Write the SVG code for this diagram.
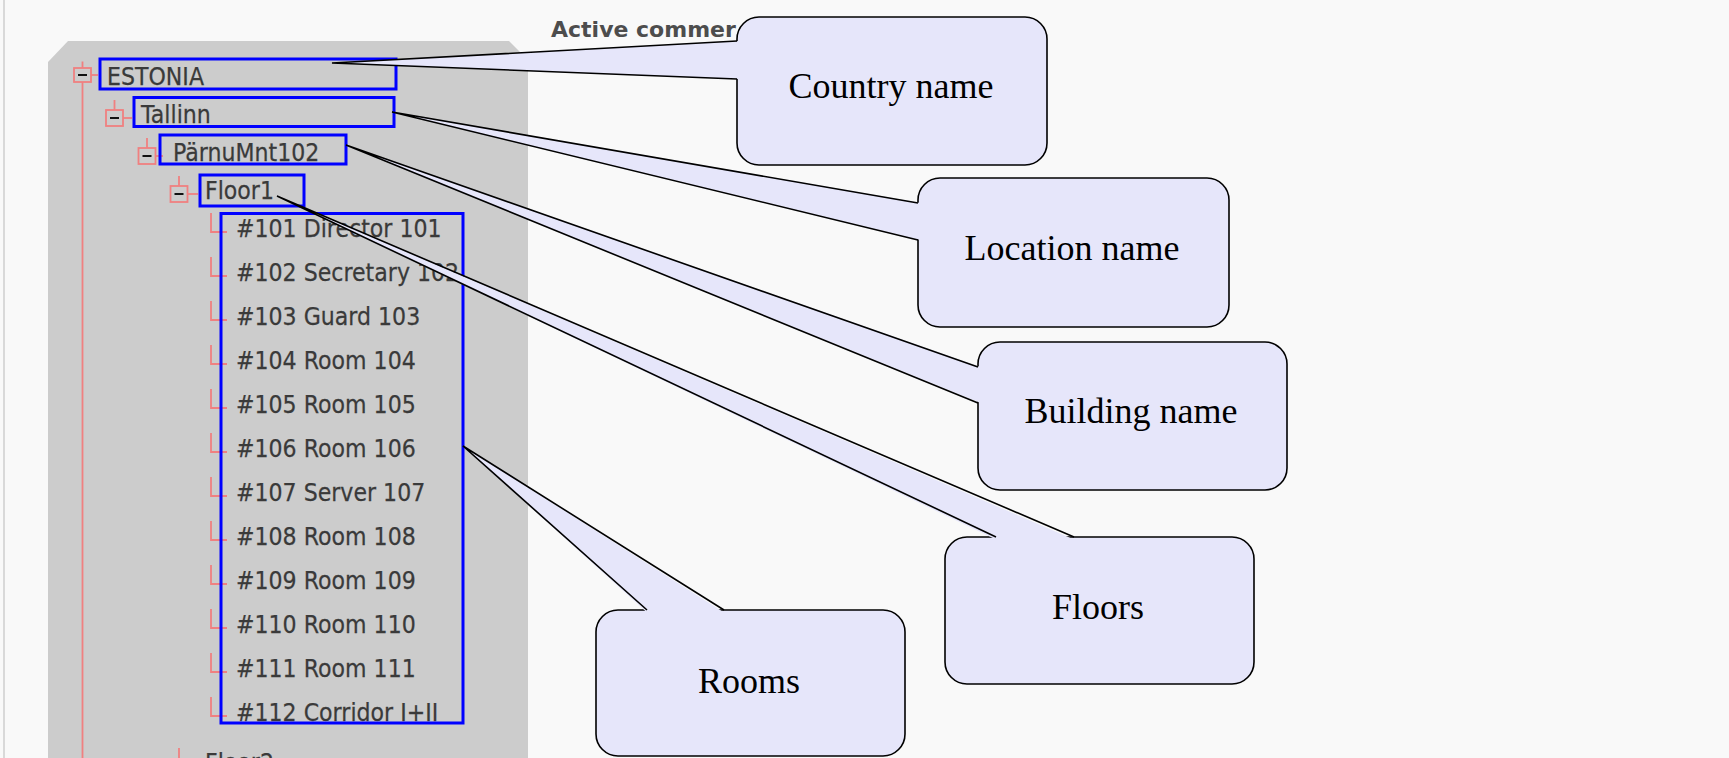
<svg xmlns="http://www.w3.org/2000/svg" width="1729" height="758" viewBox="0 0 1729 758">
  <style>
    .tree { font-family: "DejaVu Sans", Verdana, sans-serif; font-size: 25px; fill: #3a3a3a; stroke: #3a3a3a; stroke-width: 0.25; }
    .head { font-family: "DejaVu Sans", Verdana, sans-serif; font-size: 22px; font-weight: bold; fill: #4d4d4d; }
    .pink { stroke: #f08080; stroke-width: 1.8; fill: none; }
    .minus { stroke: #111; stroke-width: 2; }
    .hl { fill: none; stroke: #0000ff; stroke-width: 3; }
    .box { fill: #e6e6fa; stroke: #000; stroke-width: 1.6; }
    .tail-fill { fill: #e6e6fa; stroke: none; }
    .tail-line { fill: none; stroke: #000; stroke-width: 1.6; stroke-linejoin: miter; }
    .lbl { font-family: "Liberation Serif", "Times New Roman", serif; font-size: 36px; fill: #000; text-anchor: middle; }
  </style>

  <!-- page background -->
  <rect x="0" y="0" width="1729" height="758" fill="#f9f9f9"/>
  <line x1="4" y1="0" x2="4" y2="758" stroke="#d9d9d9" stroke-width="2"/>

  <text class="head" x="551" y="37">Active commer</text>

  <!-- tree panel -->
  <g id="tree-panel">
    <polygon points="48,62 68,41 509,41 528,60 528,758 48,758" fill="#cccccc"/>
    <!-- main vertical line -->
    <line class="pink" x1="82.5" y1="82" x2="82.5" y2="758"/>

    <g id="icon-estonia">
      <line class="pink" x1="82.5" y1="61.5" x2="82.5" y2="68"/>
      <rect class="pink" x="74" y="68" width="17" height="14"/>
      <line class="minus" x1="78" y1="75" x2="87" y2="75"/>
      <line class="pink" x1="91" y1="75" x2="98" y2="75"/>
    </g>
    <g id="icon-tallinn">
      <line class="pink" x1="114.5" y1="100" x2="114.5" y2="110"/>
      <rect class="pink" x="106" y="110" width="17" height="16"/>
      <line class="minus" x1="110" y1="118" x2="119" y2="118"/>
      <line class="pink" x1="123" y1="118" x2="132" y2="118"/>
    </g>
    <g id="icon-parnu">
      <line class="pink" x1="147" y1="138" x2="147" y2="148"/>
      <rect class="pink" x="138.5" y="148" width="17" height="16"/>
      <line class="minus" x1="142.5" y1="156" x2="151.5" y2="156"/>
      <line class="pink" x1="155.5" y1="156" x2="163" y2="156"/>
    </g>
    <g id="icon-floor1">
      <line class="pink" x1="179" y1="176" x2="179" y2="186"/>
      <rect class="pink" x="170.5" y="186" width="17" height="16"/>
      <line class="minus" x1="174.5" y1="194" x2="183.5" y2="194"/>
      <line class="pink" x1="187.5" y1="194" x2="198" y2="194"/>
    </g>
    <!-- room branch marks -->
    <path class="pink" d="M211,213 V232 H227 M211,257 V276 H227 M211,301 V320 H227 M211,345 V364 H227 M211,389 V408 H227 M211,433 V452 H227 M211,477 V496 H227 M211,521 V540 H227 M211,565 V584 H227 M211,609 V628 H227 M211,653 V672 H227 M211,697 V716 H227"/>
    <line class="pink" x1="179" y1="748" x2="179" y2="758"/>

    <text class="tree" transform="translate(107 85) scale(0.884 1)">ESTONIA</text>
    <text class="tree" transform="translate(141 123) scale(0.884 1)">Tallinn</text>
    <text class="tree" transform="translate(173 161) scale(0.884 1)">PärnuMnt102</text>
    <text class="tree" transform="translate(205 199) scale(0.884 1)">Floor1</text>
    <text class="tree" transform="translate(236 237) scale(0.884 1)">#101 Director 101</text>
    <text class="tree" transform="translate(236 281) scale(0.884 1)">#102 Secretary 102</text>
    <text class="tree" transform="translate(236 325) scale(0.884 1)">#103 Guard 103</text>
    <text class="tree" transform="translate(236 369) scale(0.884 1)">#104 Room 104</text>
    <text class="tree" transform="translate(236 413) scale(0.884 1)">#105 Room 105</text>
    <text class="tree" transform="translate(236 457) scale(0.884 1)">#106 Room 106</text>
    <text class="tree" transform="translate(236 501) scale(0.884 1)">#107 Server 107</text>
    <text class="tree" transform="translate(236 545) scale(0.884 1)">#108 Room 108</text>
    <text class="tree" transform="translate(236 589) scale(0.884 1)">#109 Room 109</text>
    <text class="tree" transform="translate(236 633) scale(0.884 1)">#110 Room 110</text>
    <text class="tree" transform="translate(236 677) scale(0.884 1)">#111 Room 111</text>
    <text class="tree" transform="translate(236 721) scale(0.884 1)">#112 Corridor I+II</text>
    <text class="tree" transform="translate(205 771) scale(0.884 1)">Floor2</text>
  </g>

  <!-- highlight boxes -->
  <g id="highlights">
    <rect id="hl-country" class="hl" x="100" y="59" width="296" height="30"/>
    <rect id="hl-location" class="hl" x="134" y="97.5" width="260" height="29"/>
    <rect id="hl-building" class="hl" x="160" y="135" width="186" height="29"/>
    <rect id="hl-floor" class="hl" x="200" y="175" width="104" height="31"/>
    <rect id="hl-rooms" class="hl" x="221" y="213.5" width="242" height="509.5"/>
  </g>

  <!-- callout boxes -->
  <g id="callout-country">
    <rect class="box" x="737" y="17" width="310" height="148" rx="22" ry="22"/>
    <text class="lbl" x="891" y="98">Country name</text>
  </g>
  <g id="callout-location">
    <rect class="box" x="918" y="178" width="311" height="149" rx="22" ry="22"/>
    <text class="lbl" x="1072" y="260">Location name</text>
  </g>
  <g id="callout-building">
    <rect class="box" x="978" y="342" width="309" height="148" rx="22" ry="22"/>
    <text class="lbl" x="1131" y="423">Building name</text>
  </g>
  <g id="callout-floors">
    <rect class="box" x="945" y="537" width="309" height="147" rx="22" ry="22"/>
    <text class="lbl" x="1098" y="619">Floors</text>
  </g>
  <g id="callout-rooms">
    <rect class="box" x="596" y="610" width="309" height="146" rx="22" ry="22"/>
    <text class="lbl" x="749" y="693">Rooms</text>
  </g>

  <!-- connectors (callout tails) -->
  <g id="connectors">
    <g id="tail-country">
      <polygon class="tail-fill" points="739.5,41 332,63 739.5,79"/>
      <path class="tail-line" d="M737,41 L332,63 L737,79"/>
    </g>
    <g id="tail-location">
      <polygon class="tail-fill" points="920.5,203 392,112 920.5,240"/>
      <path class="tail-line" d="M918,203 L392,112 L918,240"/>
    </g>
    <g id="tail-building">
      <polygon class="tail-fill" points="980.5,367 346,145 980.5,403"/>
      <path class="tail-line" d="M978,367 L346,145 L978,403"/>
    </g>
    <g id="tail-floors">
      <polygon class="tail-fill" points="996,539.5 277,196 1074,539.5"/>
      <path class="tail-line" d="M996,537 L277,196 L1074,537"/>
    </g>
    <g id="tail-rooms">
      <polygon class="tail-fill" points="647,612.5 463,446 724,612.5"/>
      <path class="tail-line" d="M647,610 L463,446 L724,610"/>
    </g>
  </g>
</svg>
